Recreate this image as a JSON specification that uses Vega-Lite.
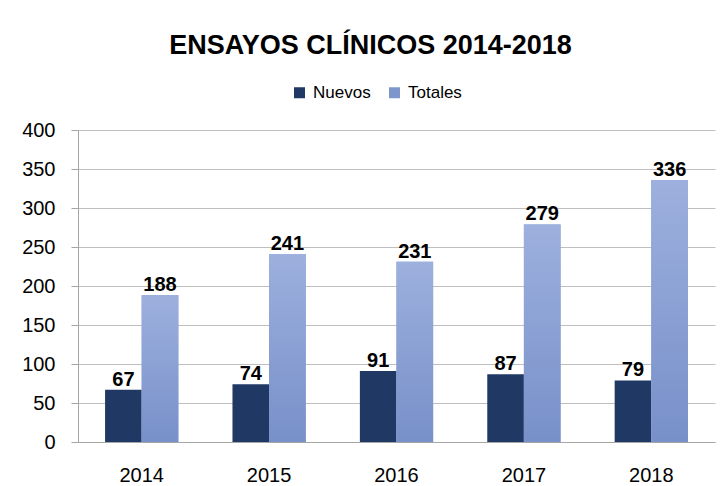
{
  "$schema": "https://vega.github.io/schema/vega-lite/v6.json",
  "width": 637,
  "height": 312,
  "autosize": {"type": "none"},
  "padding": {"left": 78, "top": 130, "right": 6, "bottom": 44},
  "background": "white",
  "config": {"view": {"stroke": null}},
  "title": {
    "text": "ENSAYOS CLÍNICOS 2014-2018",
    "font": "Liberation Sans",
    "fontSize": 27,
    "fontWeight": "bold",
    "color": "black",
    "anchor": "middle",
    "frame": "group",
    "dx": -26,
    "offset": 24
  },
  "data": {
    "values": [
      {"year": "2014", "serie": "Nuevos", "value": 67},
      {"year": "2014", "serie": "Totales", "value": 188},
      {"year": "2015", "serie": "Nuevos", "value": 74},
      {"year": "2015", "serie": "Totales", "value": 241},
      {"year": "2016", "serie": "Nuevos", "value": 91},
      {"year": "2016", "serie": "Totales", "value": 231},
      {"year": "2017", "serie": "Nuevos", "value": 87},
      {"year": "2017", "serie": "Totales", "value": 279},
      {"year": "2018", "serie": "Nuevos", "value": 79},
      {"year": "2018", "serie": "Totales", "value": 336}
    ]
  },
  "encoding": {
    "x": {
      "field": "year",
      "type": "nominal",
      "scale": {"paddingInner": 0.425, "paddingOuter": 0.2125},
      "axis": {
        "title": null,
        "labelAngle": 0,
        "ticks": false,
        "labelPadding": 23,
        "labelFont": "Liberation Sans",
        "labelFontSize": 20,
        "labelColor": "black",
        "domainColor": "#A6A6A6",
        "grid": false
      }
    },
    "xOffset": {"field": "serie", "type": "nominal", "sort": ["Nuevos", "Totales"]},
    "y": {
      "field": "value",
      "type": "quantitative",
      "scale": {"domain": [0, 400], "nice": false},
      "axis": {
        "title": null,
        "values": [0, 50, 100, 150, 200, 250, 300, 350, 400],
        "grid": true,
        "gridColor": "#BFBFBF",
        "domainColor": "#A6A6A6",
        "tickColor": "#A6A6A6",
        "tickSize": 7,
        "labelPadding": 16,
        "labelFont": "Liberation Sans",
        "labelFontSize": 20,
        "labelColor": "black"
      }
    }
  },
  "layer": [
    {
      "mark": {"type": "bar"},
      "encoding": {
        "color": {
          "field": "serie",
          "type": "nominal",
          "scale": {"domain": ["Nuevos", "Totales"], "range": ["#203864", "#7F96CC"]},
          "legend": {
            "title": null,
            "orient": "none",
            "direction": "horizontal",
            "legendX": 213,
            "legendY": -46,
            "symbolType": "square",
            "symbolSize": 121,
            "symbolStrokeWidth": 0,
            "labelFont": "Liberation Sans",
            "labelFontSize": 17,
            "labelColor": "black",
            "labelOffset": 5,
            "columnPadding": 15,
            "padding": 0
          }
        }
      }
    },
    {
      "transform": [{"filter": "datum.serie === 'Totales'"}],
      "mark": {
        "type": "bar",
        "fill": {
          "gradient": "linear",
          "x1": 0, "y1": 0, "x2": 0, "y2": 1,
          "stops": [
            {"offset": 0, "color": "#9DB0DE"},
            {"offset": 1, "color": "#7890C9"}
          ]
        }
      }
    },
    {
      "mark": {
        "type": "text",
        "baseline": "alphabetic",
        "dy": -4,
        "font": "Liberation Sans",
        "fontSize": 20,
        "fontWeight": "bold",
        "color": "black"
      },
      "encoding": {"text": {"field": "value", "type": "quantitative"}}
    }
  ]
}
